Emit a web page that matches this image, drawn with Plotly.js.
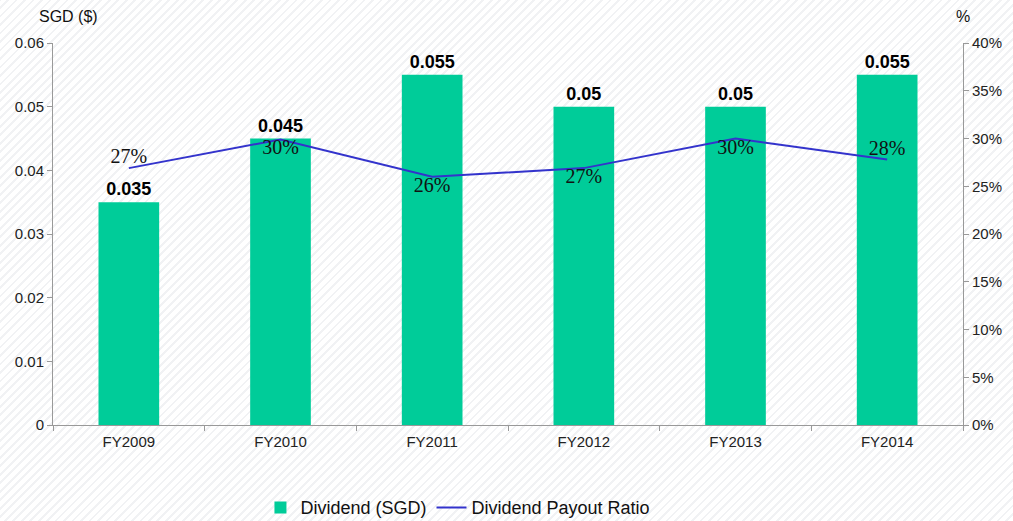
<!DOCTYPE html>
<html><head><meta charset="utf-8">
<script src="https://cdn.plot.ly/plotly-3.0.1.min.js"></script>
<style>html,body{margin:0;padding:0;}
body{background:repeating-linear-gradient(-45deg,#ffffff 0px,#ffffff 4px,#f1f2f4 4px,#f1f2f4 6px);}
#chart{width:1013px;height:521px;}</style>
</head><body><div id="chart"></div>
<script>
const categories = ["FY2009","FY2010","FY2011","FY2012","FY2013","FY2014"];
const dividend = [0.035, 0.045, 0.055, 0.05, 0.05, 0.055];
const payoutRatio = [26.9, 29.9, 26.0, 26.9, 30.0, 27.8];
const payoutLabels = ["27%","30%","26%","27%","30%","28%"];
const payoutLabelPos = ["top center","bottom center","bottom center","bottom center","bottom center","top center"];
const leftTicks = [0,0.01,0.02,0.03,0.04,0.05,0.06];
const leftTickText = ["0","0.01","0.02","0.03","0.04","0.05","0.06"];
const rightTicks = [0,5,10,15,20,25,30,35,40];
const rightTickText = rightTicks.map(v => v + "%");

const bars = {
  type: "bar", x: categories, y: dividend, name: "Dividend (SGD)",
  marker: {color: "#00cc99"},
  text: dividend.map(String), textposition: "outside",
  textfont: {family: "Arial, Liberation Sans, sans-serif", size: 18, color: "#000", weight: "bold"},
  texttemplate: "<b>%{text}</b>", cliponaxis: false
};
const line = {
  type: "scatter", mode: "lines+text", x: categories, y: payoutRatio, yaxis: "y2",
  name: "Dividend Payout Ratio",
  line: {color: "#3333cc", width: 2},
  text: payoutLabels, textposition: payoutLabelPos,
  textfont: {family: "Liberation Serif, DejaVu Serif, serif", size: 20, color: "#111"},
  cliponaxis: false
};
const layout = {
  width: 1013, height: 521,
  paper_bgcolor: "rgba(0,0,0,0)", plot_bgcolor: "rgba(0,0,0,0)",
  margin: {l: 53, r: 50, t: 43, b: 96, autoexpand: false},
  bargap: 0.6, showlegend: true,
  font: {family: "Arial, Liberation Sans, sans-serif", size: 15, color: "#222"},
  xaxis: {type: "category", showline: true, linecolor: "#999", ticks: "outside", tickcolor: "#999",
    ticklen: 5, showgrid: false, tickson: "boundaries", ticklabelstandoff: 3, tickfont: {size: 15, color: "#222"}},
  yaxis: {range: [0, 0.06], tickvals: leftTicks, ticktext: leftTickText, showline: true, linecolor: "#999",
    ticks: "outside", tickcolor: "#999", ticklen: 5, showgrid: false, zeroline: false,
    tickfont: {size: 15, color: "#222"}},
  yaxis2: {range: [0, 40], tickvals: rightTicks, ticktext: rightTickText, overlaying: "y", side: "right",
    showline: true, linecolor: "#999", ticks: "outside", tickcolor: "#999", ticklen: 5, showgrid: false,
    zeroline: false, tickfont: {size: 15, color: "#222"}},
  legend: {orientation: "h", x: 0.445, xanchor: "center", y: -0.168, yanchor: "top",
    font: {size: 18, color: "#111"}, bgcolor: "rgba(0,0,0,0)", itemwidth: 30, traceorder: "normal"},
  annotations: [
    {text: "SGD ($)", xref: "paper", yref: "paper", x: 0, y: 1, xshift: 15, yshift: 27, showarrow: false,
      xanchor: "center", yanchor: "middle", font: {size: 16, color: "#111"}},
    {text: "%", xref: "paper", yref: "paper", x: 1, y: 1, xshift: 0, yshift: 27, showarrow: false,
      xanchor: "center", yanchor: "middle", font: {size: 16, color: "#111"}}
  ]
};
Plotly.newPlot("chart", [bars, line], layout, {displayModeBar: false, staticPlot: true});
</script></body></html>
